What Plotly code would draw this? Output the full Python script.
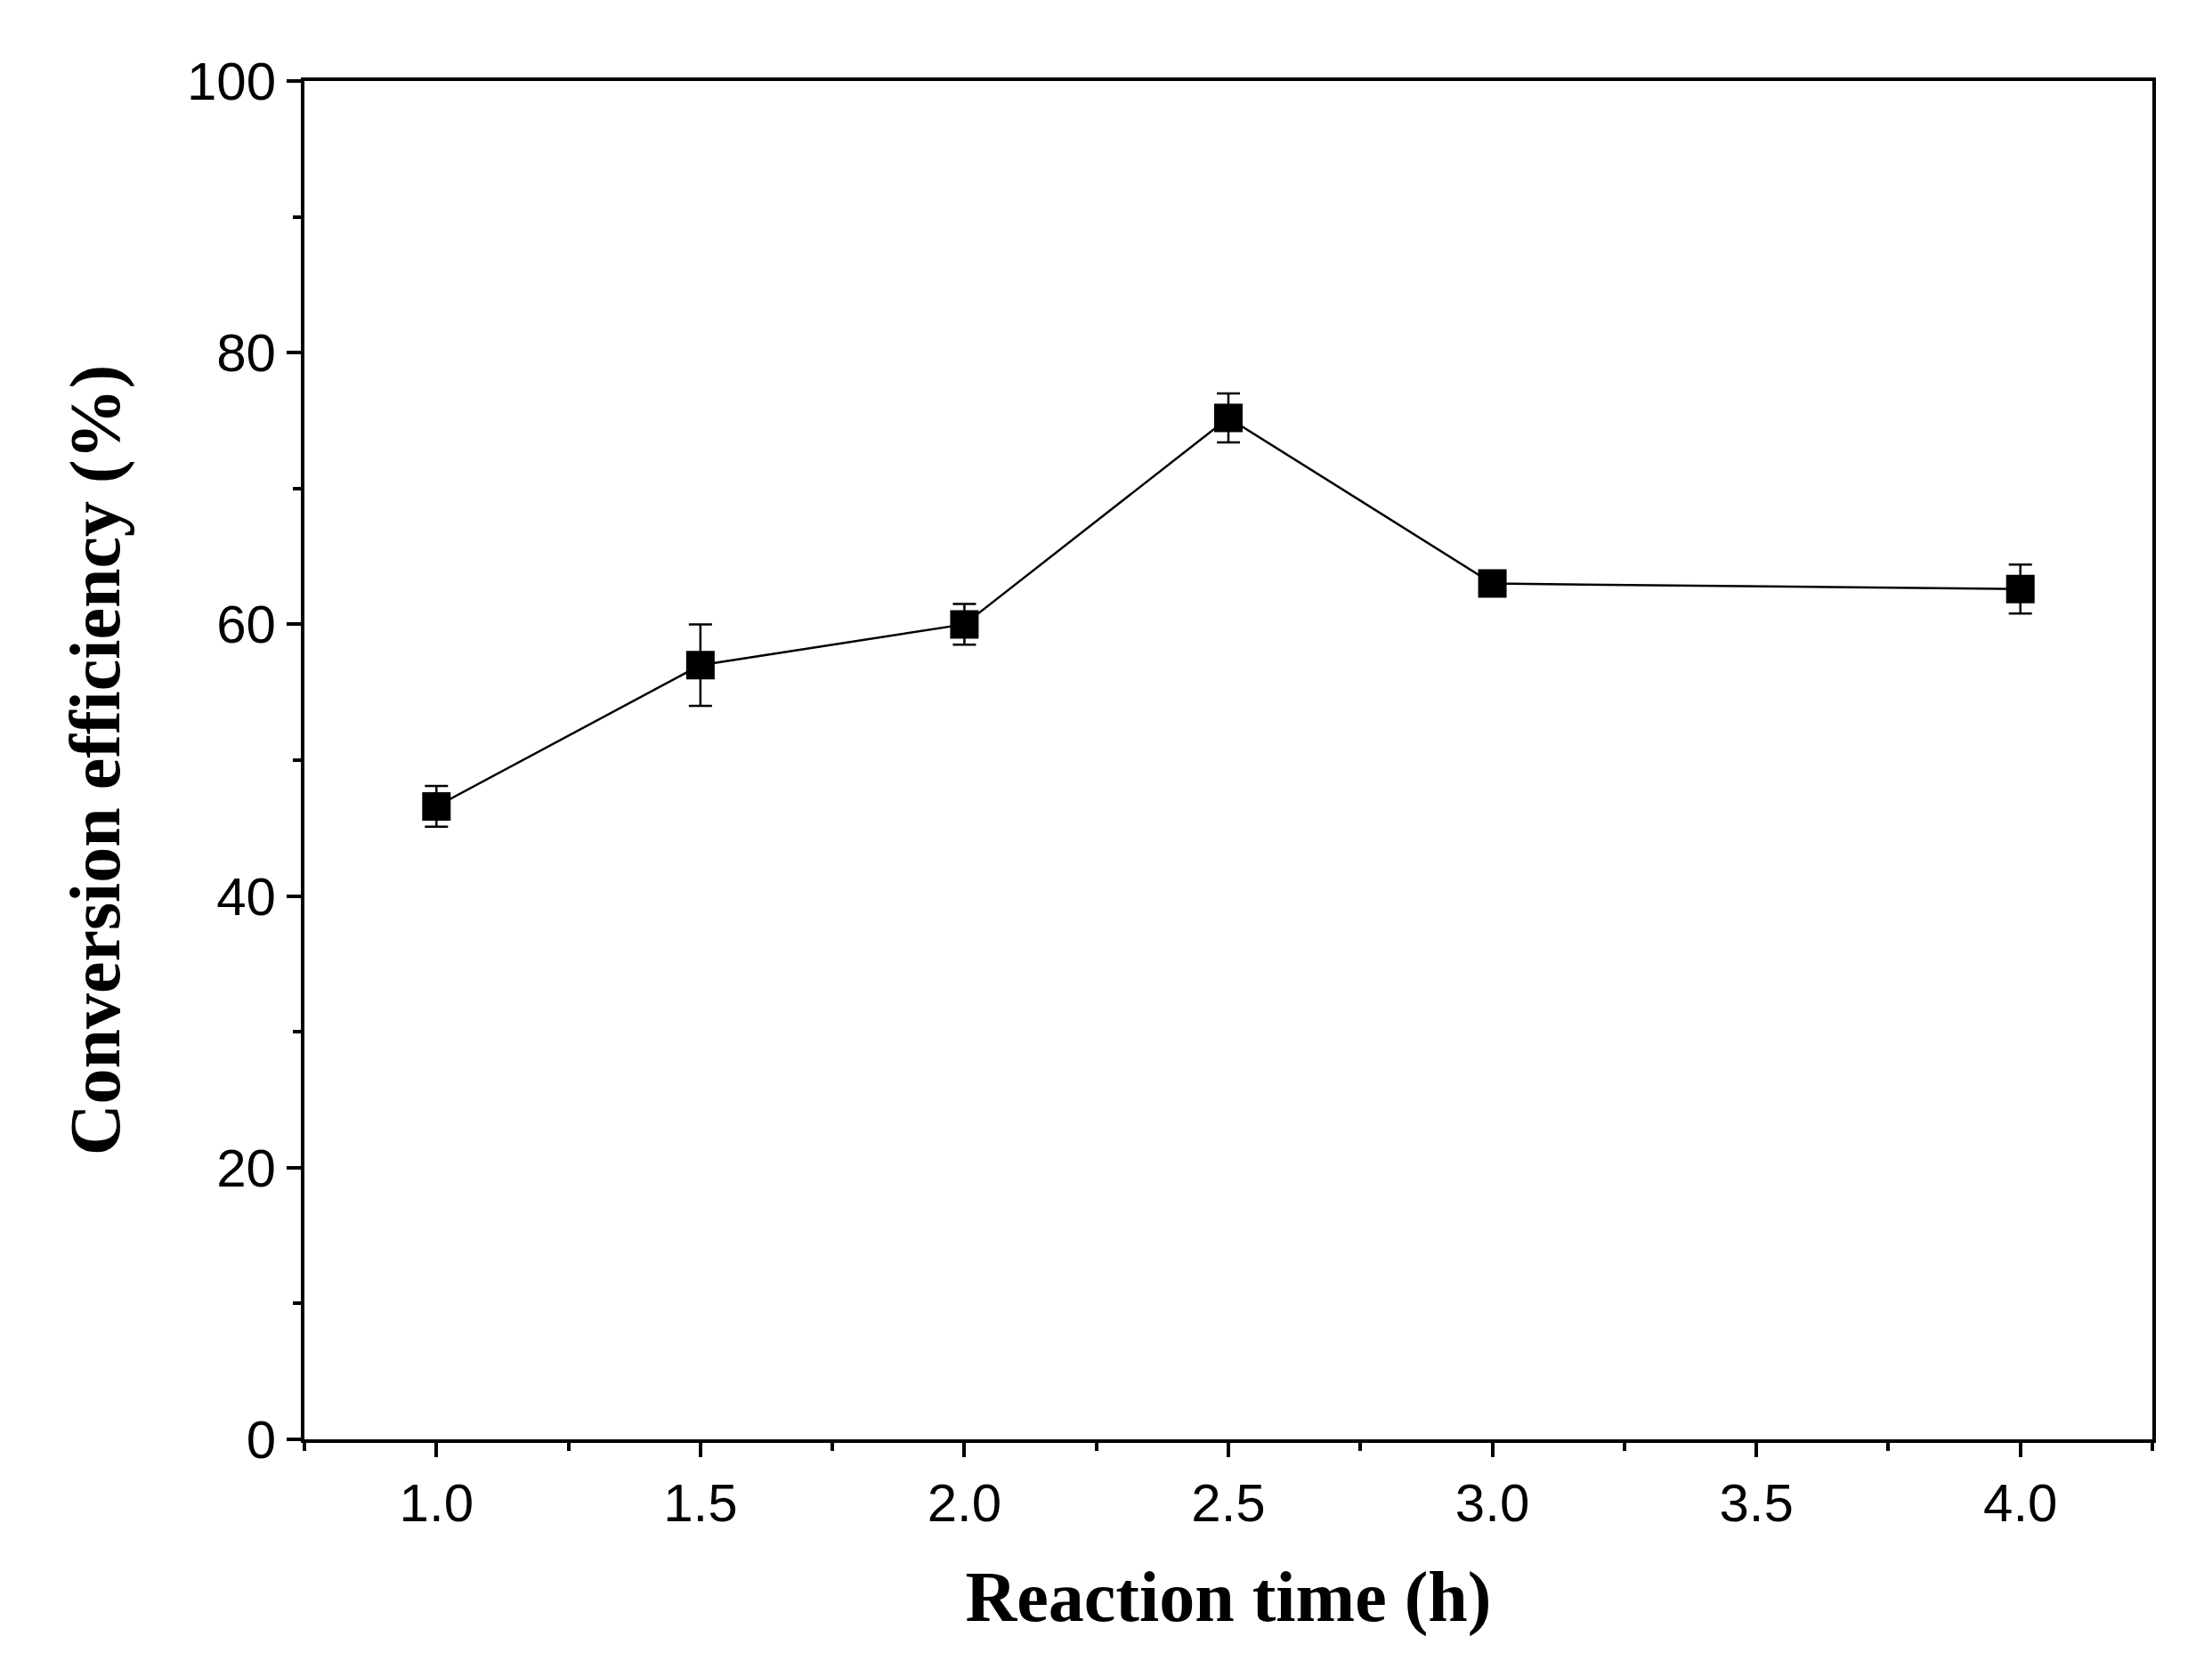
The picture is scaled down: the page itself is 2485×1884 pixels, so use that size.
import plotly.graph_objects as go

reaction_time = [1.0, 1.5, 2.0, 2.5, 3.0, 4.0]
conversion = [46.6, 57.0, 60.0, 75.2, 63.0, 62.6]
conversion_err = [1.5, 3.0, 1.5, 1.8, 0.5, 1.8]

fig = go.Figure(
    data=[go.Scatter(
        x=reaction_time, y=conversion,
        mode="lines+markers",
        line=dict(color="black", width=2.5),
        marker=dict(symbol="square", size=32, color="black"),
        error_y=dict(type="data", array=conversion_err, color="black", thickness=2.5, width=13),
    )],
)

fig.update_layout(
    width=2485, height=1884,
    plot_bgcolor="white", paper_bgcolor="white",
    showlegend=False,
    margin=dict(l=334, r=75, t=83, b=275),
    font=dict(family="Liberation Sans", size=60, color="black"),
)
fig.update_xaxes(
    range=[0.75, 4.25], tickvals=[1.0, 1.5, 2.0, 2.5, 3.0, 3.5, 4.0],
    ticktext=["1.0", "1.5", "2.0", "2.5", "3.0", "3.5", "4.0"],
    ticks="outside", ticklen=16, tickwidth=4, tickcolor="black",
    minor=dict(dtick=0.25, tick0=0.75, ticks="outside", ticklen=9, tickwidth=4, tickcolor="black"),
    showline=True, linecolor="black", linewidth=4, mirror=True, showgrid=False, zeroline=False,
    title=dict(text="<b>Reaction time (h)</b>", font=dict(family="Liberation Serif", size=80), standoff=45),
)
fig.update_yaxes(
    range=[0, 100], dtick=20,
    ticks="outside", ticklen=16, tickwidth=4, tickcolor="black",
    minor=dict(dtick=10, ticks="outside", ticklen=9, tickwidth=4, tickcolor="black"),
    showline=True, linecolor="black", linewidth=4, mirror=True, showgrid=False, zeroline=False,
    title=dict(text="<b>Conversion efficiency (%)</b>", font=dict(family="Liberation Serif", size=80), standoff=50),
)

fig.write_html("out.html")
